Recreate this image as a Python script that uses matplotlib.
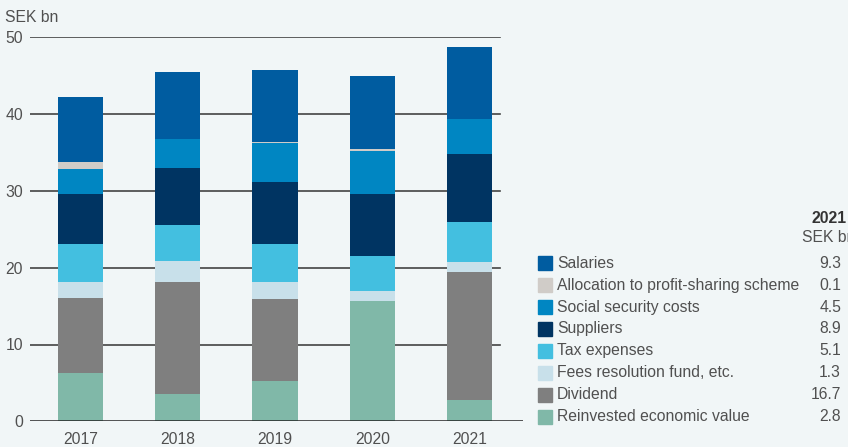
import matplotlib
matplotlib.use('Agg')
import matplotlib.pyplot as plt
from matplotlib.patches import Rectangle
import numpy as np

years = ['2017', '2018', '2019', '2020', '2021']

# stacked bottom -> top
categories = ['Reinvested economic value', 'Dividend', 'Fees resolution fund, etc.',
              'Tax expenses', 'Suppliers', 'Social security costs',
              'Allocation to profit-sharing scheme', 'Salaries']
reinvested = [6.3, 3.5, 5.2, 15.7, 2.8]
dividend = [9.8, 14.7, 10.7, 0.0, 16.7]
fees = [2.0, 2.7, 2.2, 1.3, 1.3]
tax = [5.0, 4.7, 5.0, 4.5, 5.1]
suppliers = [6.5, 7.4, 8.1, 8.1, 8.9]
social = [3.3, 3.8, 5.1, 5.6, 4.5]
allocation = [0.8, 0.0, 0.1, 0.2, 0.1]
salaries = [8.5, 8.7, 9.4, 9.5, 9.3]
series = [reinvested, dividend, fees, tax, suppliers, social, allocation, salaries]
colors = ['#80b8a8', '#7f7f7f', '#c8e0ea', '#43bfe0', '#003462', '#0086c2', '#d0ccc8', '#005ca0']

# legend order (top -> bottom) and 2021 values
legend_names = ['Salaries', 'Allocation to profit-sharing scheme', 'Social security costs',
                'Suppliers', 'Tax expenses', 'Fees resolution fund, etc.', 'Dividend',
                'Reinvested economic value']
legend_values = ['9.3', '0.1', '4.5', '8.9', '5.1', '1.3', '16.7', '2.8']
legend_colors = ['#005ca0', '#d0ccc8', '#0086c2', '#003462', '#43bfe0', '#c8e0ea', '#7f7f7f', '#80b8a8']

bg = '#f1f6f7'
txt = '#505050'
plt.rcParams['font.family'] = ['Liberation Sans', 'DejaVu Sans']

W, H = 848, 447
fig = plt.figure(figsize=(W / 100, H / 100), dpi=100, facecolor=bg)

x0, x1 = 30, 523
y0, y1 = 421.3, 37.3
ax = fig.add_axes([x0 / W, 1 - y0 / H, (x1 - x0) / W, (y0 - y1) / H])
ax.set_facecolor(bg)

x = np.arange(len(years))
ax.set_xlim((30 - 80.5) / 97.25, (523 - 80.5) / 97.25)
ax.set_ylim(0, 50)

grid_end = (500 - x0) / (x1 - x0)
for v in [10, 20, 30, 40, 50]:
    ax.axhline(v, xmin=0, xmax=grid_end, color='#444444', lw=1.2, zorder=1)
ax.axhline(0, xmin=0, xmax=1, color='#222222', lw=1.8, zorder=4)

bottom = np.zeros(len(years))
for vals, c in zip(series, colors):
    ax.bar(x, vals, bottom=bottom, width=0.465, color=c, zorder=2, linewidth=0)
    bottom += np.array(vals)

for s in ax.spines.values():
    s.set_visible(False)
ax.set_xticks(x)
ax.set_xticklabels(years)
ax.set_yticks([0, 10, 20, 30, 40, 50])
ax.tick_params(axis='both', length=0, labelsize=11.3, colors=txt)
ax.tick_params(axis='x', pad=8)
ax.tick_params(axis='y', pad=5)

fig.text(5 / W, 1 - 18 / H, 'SEK bn', fontsize=11.3, color=txt, va='center', ha='left')

# legend table on the right
fig.text(829 / W, 1 - 218 / H, '2021', fontsize=11.3, color='#333333', weight='bold',
         ha='center', va='center')
fig.text(829 / W, 1 - 237 / H, 'SEK bn', fontsize=11.3, color=txt, ha='center', va='center')
row_y = 263.3
for name, val, c in zip(legend_names, legend_values, legend_colors):
    fig.patches.append(Rectangle((538 / W, 1 - (row_y + 7) / H), 14 / W, 14 / H,
                                 transform=fig.transFigure, color=c, figure=fig))
    fig.text(557 / W, 1 - row_y / H, name, fontsize=11.3, color=txt, ha='left', va='center')
    fig.text(841 / W, 1 - row_y / H, val, fontsize=11.3, color=txt, ha='right', va='center')
    row_y += 21.9

fig.savefig('out.png', dpi=100, facecolor=bg)
